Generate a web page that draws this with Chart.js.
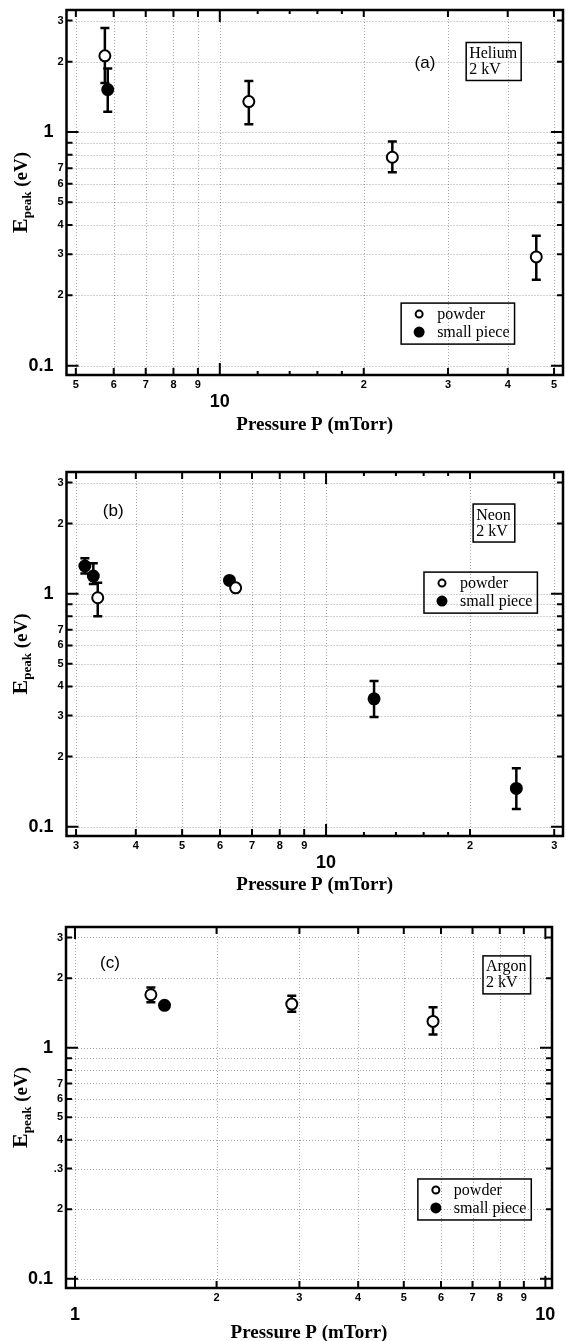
<!DOCTYPE html>
<html>
<head>
<meta charset="utf-8">
<script src="https://cdn.jsdelivr.net/npm/chart.js@4.4.1/dist/chart.umd.min.js"></script>
<style>
  body { margin: 0; background: #fff; width: 566px; height: 1341px; position: relative; overflow: hidden; }
  .panel { position: absolute; left: 0; width: 566px; }
</style>
</head>
<body>
<div class="panel" style="top:0;height:440px"><canvas id="panelA"></canvas></div>
<div class="panel" style="top:460px;height:440px"><canvas id="panelB"></canvas></div>
<div class="panel" style="top:915px;height:426px"><canvas id="panelC"></canvas></div>

<script>
// (a) Helium, 2 kV
const hePowderP  = [5.75, 11.5, 22.95, 45.9];
const hePowderE  = [2.12, 1.35, 0.78, 0.292];
const hePowderHi = [2.79, 1.655, 0.911, 0.36];
const hePowderLo = [1.62, 1.08, 0.673, 0.233];
const hePieceP   = [5.83];
const hePieceE   = [1.52];
const hePieceHi  = [1.87];
const hePieceLo  = [1.22];

// (b) Neon, 2 kV
const nePowderP  = [3.33, 6.47];
const nePowderE  = [0.961, 1.06];
const nePowderHi = [1.115, null];
const nePowderLo = [0.80, null];
const nePieceP   = [3.13, 3.26, 6.28, 12.6, 25.0];
const nePieceE   = [1.315, 1.19, 1.14, 0.354, 0.146];
const nePieceHi  = [1.42, 1.35, null, 0.422, 0.178];
const nePieceLo  = [1.22, 1.10, null, 0.296, 0.119];

// (c) Argon, 2 kV
const arPowderP  = [1.45, 2.89, 5.77];
const arPowderE  = [1.695, 1.545, 1.30];
const arPowderHi = [1.82, 1.68, 1.496];
const arPowderLo = [1.575, 1.43, 1.14];
const arPieceP   = [1.55];
const arPieceE   = [1.525];

// graduaciones
const heXTicks  = [5, 6, 7, 8, 9, 10, 12, 14, 16, 18, 20, 30, 40, 50];
const heXLabels = ["5", "6", "7", "8", "9", "10", "", "", "", "", "2", "3", "4", "5"];
const neXTicks  = [3, 4, 5, 6, 7, 8, 9, 10, 12, 14, 16, 18, 20, 30];
const neXLabels = ["3", "4", "5", "6", "7", "8", "9", "10", "", "", "", "", "2", "3"];
const arXTicks  = [1, 2, 3, 4, 5, 6, 7, 8, 9, 10];
const arXLabels = ["1", "2", "3", "4", "5", "6", "7", "8", "9", "10"];
const yTicks    = [0.1, 0.2, 0.3, 0.4, 0.5, 0.6, 0.7, 0.8, 0.9, 1, 2, 3];
const yLabels   = ["0.1", "2", "3", "4", "5", "6", "7", "", "", "1", "2", "3"];
const arYLabels = ["0.1", "2", ".3", "4", "5", "6", "7", "", "", "1", "2", "3"];

const SANS  = "'Liberation Sans', Arial, sans-serif";
const SERIF = "'Liberation Serif', 'Times New Roman', serif";

const esDecada = v => Math.abs(Math.log10(v) - Math.round(Math.log10(v))) < 1e-9;
const puntos = (xs, ys) => xs.map((x, i) => ({ x, y: ys[i] }));

// rejilla punteada, barras de error, marco, marcas, recuadros y título del eje Y
const decor = {
  id: "decor",
  beforeDatasetsDraw(chart) {
    const { ctx, chartArea: a, scales: { x, y } } = chart;
    const o = chart.options.plugins.decor;
    ctx.save();
    ctx.strokeStyle = "rgba(0,0,0,0.45)";
    ctx.lineWidth = 0.8;
    ctx.setLineDash([1, 2]);
    o.xTicks.forEach((v, i) => {
      if (!o.xLabels[i]) return;
      const px = Math.round(x.getPixelForValue(v)) + 0.5;
      ctx.beginPath(); ctx.moveTo(px, a.top); ctx.lineTo(px, a.bottom); ctx.stroke();
    });
    o.yTicks.forEach(v => {
      const py = Math.round(y.getPixelForValue(v)) + 0.5;
      ctx.beginPath(); ctx.moveTo(a.left, py); ctx.lineTo(a.right, py); ctx.stroke();
    });
    ctx.setLineDash([]);

    ctx.strokeStyle = "#000";
    ctx.lineWidth = 2.5;
    chart.data.datasets.forEach(ds => {
      if (!ds.errHi) return;
      ds.data.forEach((d, i) => {
        if (ds.errHi[i] == null) return;
        const px  = x.getPixelForValue(d.x);
        const top = y.getPixelForValue(ds.errHi[i]);
        const bot = y.getPixelForValue(ds.errLo[i]);
        ctx.beginPath();
        ctx.moveTo(px, top); ctx.lineTo(px, bot);
        ctx.moveTo(px - 4.5, top); ctx.lineTo(px + 4.5, top);
        ctx.moveTo(px - 4.5, bot); ctx.lineTo(px + 4.5, bot);
        ctx.stroke();
      });
    });
    ctx.restore();
  },
  afterDatasetsDraw(chart) {
    const { ctx, chartArea: a, scales: { x, y } } = chart;
    const o = chart.options.plugins.decor;
    ctx.save();

    // marcas hacia dentro en los cuatro lados
    ctx.strokeStyle = "#000";
    ctx.lineWidth = 2;
    o.xTicks.forEach((v, i) => {
      const px = x.getPixelForValue(v);
      const len = esDecada(v) ? 12 : (o.xLabels[i] ? 7 : 4);
      ctx.beginPath();
      ctx.moveTo(px, a.bottom); ctx.lineTo(px, a.bottom - len);
      ctx.moveTo(px, a.top);    ctx.lineTo(px, a.top + len);
      ctx.stroke();
    });
    o.yTicks.forEach(v => {
      const py = y.getPixelForValue(v);
      const len = esDecada(v) ? 12 : 6;
      ctx.beginPath();
      ctx.moveTo(a.left, py);  ctx.lineTo(a.left + len, py);
      ctx.moveTo(a.right, py); ctx.lineTo(a.right - len, py);
      ctx.stroke();
    });

    // marco
    ctx.lineWidth = 2.5;
    ctx.strokeRect(a.left, a.top, a.width, a.height);

    // etiqueta (a)/(b)/(c)
    ctx.fillStyle = "#000";
    ctx.font = `17px ${SANS}`;
    ctx.textAlign = "center";
    ctx.textBaseline = "middle";
    ctx.fillText(o.tag, a.left + o.tagPos[0] * a.width, a.top + o.tagPos[1] * a.height);

    // recuadro del gas
    ctx.font = `16px ${SERIF}`;
    ctx.textAlign = "left";
    ctx.textBaseline = "alphabetic";
    const gx = a.left + o.gasPos[0] * a.width;
    const gy = a.top + o.gasPos[1] * a.height;
    const gw = Math.max(...o.gas.map(t => ctx.measureText(t).width)) + 7;
    ctx.lineWidth = 1.5;
    ctx.strokeRect(gx, gy, gw, 38);
    o.gas.forEach((t, i) => ctx.fillText(t, gx + 3, gy + 15.5 + i * 16));

    // leyenda
    const lx = a.left + o.legPos[0] * a.width;
    const ly = a.top + o.legPos[1] * a.height;
    const labels = chart.data.datasets.map(d => d.label);
    const lw = 36 + Math.max(...labels.map(t => ctx.measureText(t).width)) + 5;
    ctx.lineWidth = 1.5;
    ctx.strokeRect(lx, ly, lw, 41);
    ctx.textBaseline = "middle";
    chart.data.datasets.forEach((d, i) => {
      const cy = ly + 11 + i * 18;
      const relleno = d.backgroundColor === "#000";
      ctx.beginPath();
      ctx.arc(lx + 18, cy, relleno ? 4.5 : 3.5, 0, Math.PI * 2);
      ctx.fillStyle = relleno ? "#000" : "#fff";
      ctx.fill();
      ctx.lineWidth = 2;
      ctx.strokeStyle = "#000";
      ctx.stroke();
      ctx.fillStyle = "#000";
      ctx.fillText(d.label, lx + 36, cy + 1);
    });

    // título del eje Y con subíndice
    const cy = (a.top + a.bottom) / 2;
    ctx.translate(27, cy);
    ctx.rotate(-Math.PI / 2);
    ctx.textBaseline = "alphabetic";
    const fE = `bold 22px ${SERIF}`, fS = `bold 13px ${SERIF}`, fU = `bold 19px ${SERIF}`;
    ctx.font = fE; const wE = ctx.measureText("E").width;
    ctx.font = fS; const wS = ctx.measureText("peak").width;
    ctx.font = fU; const wU = ctx.measureText(" (eV)").width;
    let tx = -(wE + wS + wU) / 2;
    ctx.font = fE; ctx.fillText("E", tx, 0); tx += wE;
    ctx.font = fS; ctx.fillText("peak", tx, 4); tx += wS;
    ctx.font = fU; ctx.fillText(" (eV)", tx, 0);
    ctx.restore();
  }
};

function crearPanel(id, p) {
  const ctx = document.getElementById(id).getContext("2d");
  return new Chart(ctx, {
    type: "scatter",
    data: {
      datasets: [
        {
          label: "powder",
          data: puntos(p.powderP, p.powderE),
          errHi: p.powderHi, errLo: p.powderLo,
          backgroundColor: "#fff", borderColor: "#000",
          pointRadius: 5.5, borderWidth: 2
        },
        {
          label: "small piece",
          data: puntos(p.pieceP, p.pieceE),
          errHi: p.pieceHi, errLo: p.pieceLo,
          backgroundColor: "#000", borderColor: "#000",
          pointRadius: 5.5, borderWidth: 2
        }
      ]
    },
    options: {
      responsive: true,
      maintainAspectRatio: false,
      animation: false,
      devicePixelRatio: 1,
      layout: { autoPadding: false, padding: { top: p.padTop, right: p.padRight, left: 0, bottom: 0 } },
      plugins: {
        legend: { display: false },
        tooltip: { enabled: false },
        decor: {
          xTicks: p.xTicks, xLabels: p.xLabels, yTicks: yTicks,
          tag: p.tag, tagPos: p.tagPos, gas: p.gas, gasPos: p.gasPos, legPos: p.legPos
        }
      },
      scales: {
        x: {
          type: "logarithmic",
          min: p.xMin, max: p.xMax,
          grid: { display: false, drawTicks: false },
          border: { display: false },
          afterBuildTicks: s => { s.ticks = p.xTicks.map(v => ({ value: v })); },
          afterFit: s => { s.height = p.xHeight; s.paddingLeft = 0; s.paddingRight = 0; },
          ticks: {
            autoSkip: false, maxRotation: 0, minRotation: 0, padding: 3.4, color: "#000",
            callback: (v, i) => esDecada(p.xTicks[i]) ? ["", p.xLabels[i]] : p.xLabels[i],
            font: c => esDecada(c.tick.value)
              ? { family: SANS, weight: "bold", size: 18, lineHeight: 0.87 }
              : { family: SANS, weight: "bold", size: 11 }
          },
          title: {
            display: true, text: "Pressure P (mTorr)", color: "#000",
            font: { family: SERIF, weight: "bold", size: 19, lineHeight: 1 },
            padding: { top: 0, bottom: p.titlePad }
          }
        },
        y: {
          type: "logarithmic",
          min: 0.0912, max: 3.33,
          grid: { display: false, drawTicks: false },
          border: { display: false },
          afterBuildTicks: s => { s.ticks = yTicks.map(v => ({ value: v })); },
          afterFit: s => { s.width = p.yWidth; s.paddingTop = 0; s.paddingBottom = 0; },
          ticks: {
            autoSkip: false, padding: 3, color: "#000",
            callback: (v, i) => esDecada(yTicks[i]) ? p.yLabels[i] + "  " : p.yLabels[i],
            font: c => esDecada(c.tick.value)
              ? { family: SANS, weight: "bold", size: 18 }
              : { family: SANS, weight: "bold", size: 11 }
          }
        }
      }
    },
    plugins: [decor]
  });
}

crearPanel("panelA", {
  powderP: hePowderP, powderE: hePowderE, powderHi: hePowderHi, powderLo: hePowderLo,
  pieceP: hePieceP, pieceE: hePieceE, pieceHi: hePieceHi, pieceLo: hePieceLo,
  xTicks: heXTicks, xLabels: heXLabels, yLabels: yLabels,
  xMin: 4.78, xMax: 52.2,
  padTop: 10, padRight: 3, xHeight: 65, yWidth: 66.5, titlePad: 5.5,
  tag: "(a)", tagPos: [0.722, 0.145],
  gas: ["Helium", "2 kV"], gasPos: [0.805, 0.089], legPos: [0.674, 0.803]
});

crearPanel("panelB", {
  powderP: nePowderP, powderE: nePowderE, powderHi: nePowderHi, powderLo: nePowderLo,
  pieceP: nePieceP, pieceE: nePieceE, pieceHi: nePieceHi, pieceLo: nePieceLo,
  xTicks: neXTicks, xLabels: neXLabels, yLabels: yLabels,
  xMin: 2.865, xMax: 31.3,
  padTop: 12, padRight: 3, xHeight: 64, yWidth: 66.5, titlePad: 5.5,
  tag: "(b)", tagPos: [0.094, 0.107],
  gas: ["Neon", "2 kV"], gasPos: [0.819, 0.088], legPos: [0.72, 0.275]
});

crearPanel("panelC", {
  powderP: arPowderP, powderE: arPowderE, powderHi: arPowderHi, powderLo: arPowderLo,
  pieceP: arPieceP, pieceE: arPieceE, pieceHi: null, pieceLo: null,
  xTicks: arXTicks, xLabels: arXLabels, yLabels: arYLabels,
  xMin: 0.957, xMax: 10.33,
  padTop: 12, padRight: 14, xHeight: 53, yWidth: 66, titlePad: -1.5,
  tag: "(c)", tagPos: [0.0905, 0.0997],
  gas: ["Argon", "2 kV"], gasPos: [0.858, 0.08], legPos: [0.724, 0.698]
});
</script>
</body>
</html>
